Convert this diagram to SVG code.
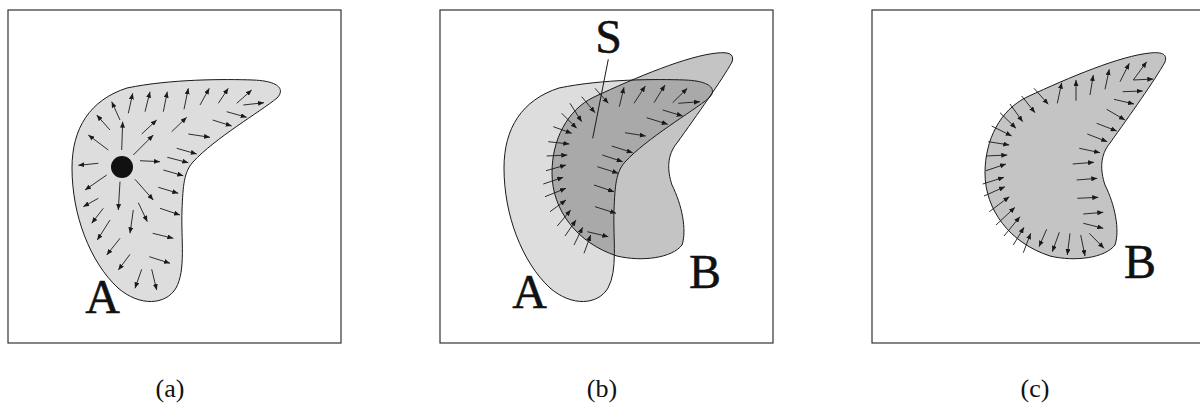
<svg xmlns="http://www.w3.org/2000/svg" width="1200" height="406" viewBox="0 0 1200 406">
<style>
.box{fill:none;stroke:#333;stroke-width:1.2}
.outline{fill:none;stroke:#1a1a1a;stroke-width:1}
.fa{fill:#dddddd}
.fb{fill:#c4c4c4}
.fab{fill:#a9a9a9}
.ar{stroke:#1a1a1a;stroke-width:0.9;marker-end:url(#ah)}
.lbl{font-family:"Liberation Serif","Times New Roman",serif;font-size:48px;fill:#111;stroke:#111;stroke-width:0.5;text-anchor:middle}
.cap{font-family:"Liberation Serif","Times New Roman",serif;font-size:26px;fill:#111;text-anchor:middle}
</style>
<defs>
<marker id="ah" markerUnits="userSpaceOnUse" markerWidth="6" markerHeight="5" refX="6" refY="2.5" orient="auto">
<path d="M0,0 L6,2.5 L0,5 z" fill="#1a1a1a"/>
</marker>
<path id="shapeA" d="M127,88 C170,79 225,79 253,80 C280,81 285,90 277,98 C260,112 215,138 193,162 C184,172 183,185 182,210 C181,240 186,270 176,288 C166,305 140,307 118,288 C90,262 72,215 72,168 C72,128 90,100 127,88 Z"/>
<path id="shapeB" d="M1165,62 C1168,53 1160,52 1150,53 C1120,56 1070,77 1027,97 C1000,110 985,140 985,173 C985,210 1010,243 1050,256 C1075,262 1105,258 1115,245 C1120,230 1115,205 1105,185 C1100,170 1100,155 1110,143 C1130,115 1155,80 1165,62 Z"/>
<clipPath id="clipA"><use href="#shapeA" transform="translate(432,0)"/></clipPath>
</defs>

<g id="panel-a">
<rect class="box" x="8" y="10" width="333" height="333"/>
<use href="#shapeA" class="fa"/>
<use href="#shapeA" class="outline"/>
<circle cx="122" cy="167" r="11" fill="#111"/>
<g id="arrows-a">
<line class="ar" x1="120" y1="120" x2="111.7" y2="101.7"/>
<line class="ar" x1="128.3" y1="113.3" x2="132.7" y2="93.3"/>
<line class="ar" x1="145" y1="111.7" x2="150" y2="91.7"/>
<line class="ar" x1="163.3" y1="111.7" x2="167.3" y2="91.7"/>
<line class="ar" x1="184" y1="109.3" x2="188.3" y2="88.3"/>
<line class="ar" x1="200" y1="105" x2="209.3" y2="88.3"/>
<line class="ar" x1="218.3" y1="103.3" x2="228.3" y2="88.3"/>
<line class="ar" x1="236.7" y1="103.3" x2="251.7" y2="90"/>
<line class="ar" x1="243.3" y1="105" x2="264" y2="102.7"/>
<line class="ar" x1="226.7" y1="111.7" x2="246.7" y2="117.3"/>
<line class="ar" x1="212.7" y1="120" x2="231.7" y2="126"/>
<line class="ar" x1="188.3" y1="134" x2="210" y2="137.3"/>
<line class="ar" x1="171.7" y1="131.7" x2="186.7" y2="117.3"/>
<line class="ar" x1="141.7" y1="134" x2="156.7" y2="120"/>
<line class="ar" x1="121.7" y1="150" x2="122.7" y2="121.7"/>
<line class="ar" x1="110" y1="130" x2="96.7" y2="115"/>
<line class="ar" x1="108.3" y1="150" x2="88.3" y2="135"/>
<line class="ar" x1="133.3" y1="155" x2="153.3" y2="135"/>
<line class="ar" x1="176.7" y1="148.3" x2="196.7" y2="154"/>
<line class="ar" x1="167.3" y1="157.3" x2="188.3" y2="162.7"/>
<line class="ar" x1="140" y1="160.7" x2="160" y2="161.7"/>
<line class="ar" x1="163.3" y1="170" x2="183.3" y2="175.7"/>
<line class="ar" x1="98.3" y1="163.3" x2="78.3" y2="165.3"/>
<line class="ar" x1="106.7" y1="175" x2="85" y2="190"/>
<line class="ar" x1="120" y1="181.7" x2="118.3" y2="210"/>
<line class="ar" x1="135" y1="179.3" x2="153.3" y2="200"/>
<line class="ar" x1="158.3" y1="187.3" x2="178.3" y2="193.3"/>
<line class="ar" x1="98.3" y1="198.3" x2="83.3" y2="206.7"/>
<line class="ar" x1="138.3" y1="202.7" x2="147.3" y2="221.7"/>
<line class="ar" x1="160" y1="208.3" x2="180" y2="215"/>
<line class="ar" x1="133.3" y1="210" x2="130" y2="233.3"/>
<line class="ar" x1="103.3" y1="208.3" x2="91.7" y2="223.3"/>
<line class="ar" x1="110" y1="220" x2="97.3" y2="240"/>
<line class="ar" x1="152.7" y1="233.3" x2="173.3" y2="238.3"/>
<line class="ar" x1="120" y1="238.3" x2="106.7" y2="255"/>
<line class="ar" x1="130" y1="254.3" x2="118.3" y2="270"/>
<line class="ar" x1="149.3" y1="256.7" x2="170" y2="263.3"/>
<line class="ar" x1="141.7" y1="269.3" x2="135" y2="288.3"/>
<line class="ar" x1="151.7" y1="269.3" x2="156.7" y2="290"/>
</g>
<text class="lbl" x="102.5" y="313">A</text>
<text class="cap" x="170" y="397">(a)</text>
</g>

<g id="panel-b">
<rect class="box" x="440" y="10" width="333" height="333"/>
<use href="#shapeA" class="fa" transform="translate(432,0)"/>
<use href="#shapeB" class="fb" transform="translate(-433,0)"/>
<g clip-path="url(#clipA)"><use href="#shapeB" class="fab" transform="translate(-433,0)"/></g>
<use href="#shapeA" class="outline" transform="translate(432,0)"/>
<use href="#shapeB" class="outline" transform="translate(-433,0)"/>
<g id="arrows-b">
<line class="ar" x1="595" y1="88.3" x2="608.3" y2="103.3"/>
<line class="ar" x1="581.7" y1="96.7" x2="595" y2="112.7"/>
<line class="ar" x1="570" y1="103.3" x2="581.7" y2="121.7"/>
<line class="ar" x1="561.7" y1="113.3" x2="576.7" y2="128.3"/>
<line class="ar" x1="553.3" y1="126.7" x2="571.7" y2="133.3"/>
<line class="ar" x1="548.3" y1="141.7" x2="569.3" y2="144"/>
<line class="ar" x1="546.7" y1="156" x2="567.3" y2="155"/>
<line class="ar" x1="546" y1="170.7" x2="566" y2="165"/>
<line class="ar" x1="543.3" y1="184" x2="563.3" y2="177.3"/>
<line class="ar" x1="545" y1="196.7" x2="566" y2="188.3"/>
<line class="ar" x1="550" y1="211.7" x2="566" y2="200"/>
<line class="ar" x1="557.3" y1="226" x2="570.7" y2="210"/>
<line class="ar" x1="565" y1="236" x2="576" y2="220"/>
<line class="ar" x1="574" y1="245" x2="582.7" y2="227.3"/>
<line class="ar" x1="584" y1="253.3" x2="590.7" y2="235"/>
<line class="ar" x1="587.3" y1="231.7" x2="608.3" y2="236.7"/>
<line class="ar" x1="595" y1="206.7" x2="616" y2="213.3"/>
<line class="ar" x1="594" y1="185" x2="614" y2="191.7"/>
<line class="ar" x1="597.3" y1="166.7" x2="618.3" y2="173.3"/>
<line class="ar" x1="602.3" y1="155" x2="622.7" y2="161.7"/>
<line class="ar" x1="611.7" y1="146" x2="632.7" y2="152.7"/>
<line class="ar" x1="625" y1="132.7" x2="645.7" y2="136"/>
<line class="ar" x1="646.7" y1="117.7" x2="667.7" y2="124.3"/>
<line class="ar" x1="662.7" y1="110" x2="682.7" y2="116"/>
<line class="ar" x1="678.3" y1="103.3" x2="700" y2="101.7"/>
<line class="ar" x1="672.7" y1="102.7" x2="687.3" y2="88.3"/>
<line class="ar" x1="654" y1="102.7" x2="665" y2="85"/>
<line class="ar" x1="634" y1="103.3" x2="645.3" y2="86"/>
<line class="ar" x1="619.3" y1="106.7" x2="624" y2="87.3"/>
</g>
<line x1="608.3" y1="59.3" x2="592.7" y2="138.3" stroke="#1a1a1a" stroke-width="1"/>
<text class="lbl" x="608.5" y="53">S</text>
<text class="lbl" x="529.5" y="308">A</text>
<text class="lbl" x="705" y="288">B</text>
<text class="cap" x="602" y="397">(b)</text>
</g>

<g id="panel-c">
<rect class="box" x="872" y="10" width="335" height="333"/>
<use href="#shapeB" class="fb"/>
<use href="#shapeB" class="outline"/>
<g id="arrows-c">
<line class="ar" x1="1034" y1="88.3" x2="1048.3" y2="104.3"/>
<line class="ar" x1="1021.7" y1="96" x2="1035" y2="112.7"/>
<line class="ar" x1="1010" y1="104" x2="1022.7" y2="121.7"/>
<line class="ar" x1="1000" y1="112.7" x2="1016" y2="128.3"/>
<line class="ar" x1="991.7" y1="126" x2="1011.7" y2="136"/>
<line class="ar" x1="988.3" y1="141.7" x2="1009.3" y2="145"/>
<line class="ar" x1="986" y1="156" x2="1007.3" y2="155"/>
<line class="ar" x1="986" y1="170.7" x2="1006" y2="164"/>
<line class="ar" x1="982.7" y1="184" x2="1004" y2="177.3"/>
<line class="ar" x1="984" y1="196" x2="1005" y2="186.7"/>
<line class="ar" x1="989.3" y1="211.7" x2="1009.3" y2="196.7"/>
<line class="ar" x1="996" y1="225" x2="1015" y2="207.3"/>
<line class="ar" x1="1004" y1="236" x2="1020" y2="216.7"/>
<line class="ar" x1="1013.3" y1="245" x2="1024" y2="227.3"/>
<line class="ar" x1="1023.3" y1="252.7" x2="1030.7" y2="233.3"/>
<line class="ar" x1="1046.7" y1="229.3" x2="1039" y2="246.7"/>
<line class="ar" x1="1059.3" y1="232.3" x2="1052.3" y2="251.7"/>
<line class="ar" x1="1070" y1="233.3" x2="1067.3" y2="255"/>
<line class="ar" x1="1080.7" y1="235" x2="1085" y2="256"/>
<line class="ar" x1="1089.3" y1="233.3" x2="1104" y2="248.3"/>
<line class="ar" x1="1083.3" y1="223.3" x2="1103.3" y2="228.3"/>
<line class="ar" x1="1083.3" y1="214" x2="1103.3" y2="212.3"/>
<line class="ar" x1="1077.3" y1="198.3" x2="1098.3" y2="197.3"/>
<line class="ar" x1="1076.7" y1="180" x2="1097.3" y2="178.3"/>
<line class="ar" x1="1072.7" y1="164" x2="1094" y2="162.3"/>
<line class="ar" x1="1079.3" y1="148.3" x2="1100" y2="152.7"/>
<line class="ar" x1="1087.3" y1="134" x2="1107.3" y2="141.7"/>
<line class="ar" x1="1096.7" y1="123.3" x2="1116.7" y2="131"/>
<line class="ar" x1="1106.7" y1="109.3" x2="1125" y2="120"/>
<line class="ar" x1="1114" y1="99.3" x2="1134" y2="104"/>
<line class="ar" x1="1122.7" y1="91.7" x2="1142.7" y2="91"/>
<line class="ar" x1="1133.3" y1="80" x2="1153.3" y2="79"/>
<line class="ar" x1="1133.3" y1="80" x2="1146.7" y2="61.7"/>
<line class="ar" x1="1120" y1="81.7" x2="1129.3" y2="63.3"/>
<line class="ar" x1="1105" y1="89.3" x2="1109.3" y2="69.3"/>
<line class="ar" x1="1090" y1="95" x2="1093.3" y2="75"/>
<line class="ar" x1="1076" y1="100.7" x2="1076" y2="80"/>
<line class="ar" x1="1057.3" y1="103.3" x2="1061.7" y2="82.7"/>
</g>
<text class="lbl" x="1140" y="278">B</text>
<text class="cap" x="1035" y="397">(c)</text>
</g>
</svg>
